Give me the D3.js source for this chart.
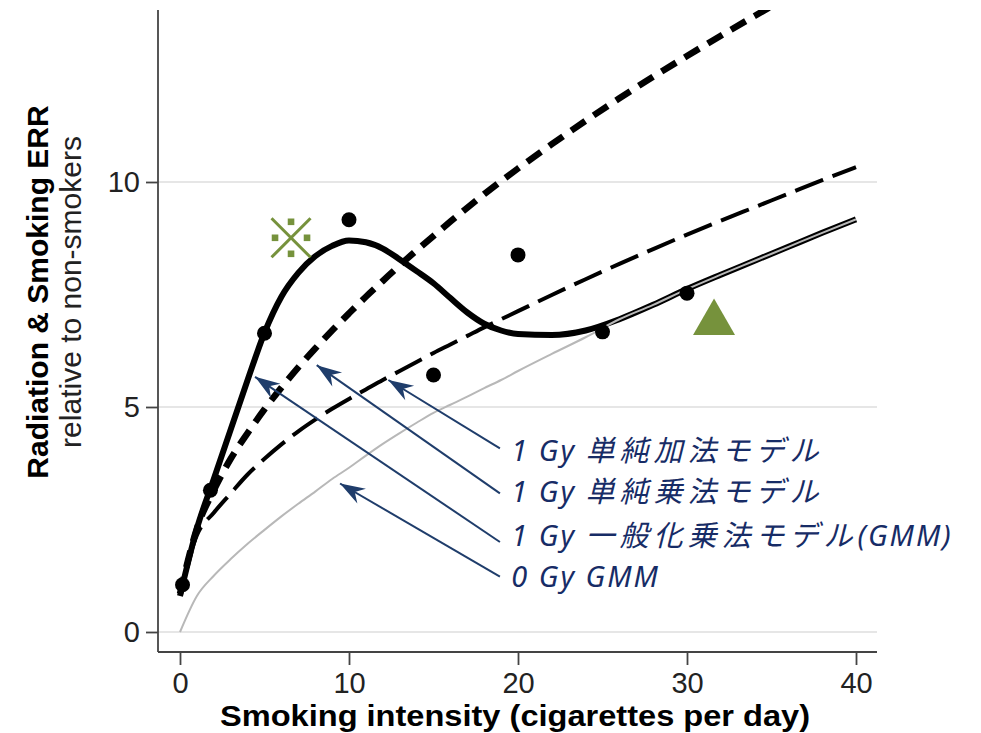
<!DOCTYPE html>
<html>
<head>
<meta charset="utf-8">
<script src="https://cdn.jsdelivr.net/npm/d3@7"></script>
<style>
  body { margin: 0; background: #fff; }
  svg { display: block; }
  .axis text { font-family: "Liberation Sans", Arial, sans-serif; font-size: 29px; fill: #222; }
  .axis line { stroke: #444; stroke-width: 1.8; }
</style>
</head>
<body>
<svg id="chart" width="981" height="733"></svg>
<script>
// Values
var intensity = [0, 1, 2, 3, 4, 5, 6, 7, 8, 9, 10, 11, 12, 13, 14, 15, 16, 17, 18, 19, 20, 22, 24, 26, 28, 30, 32, 34, 36, 38, 40];
var gmm1Gy = [0.8, 2.3, 3.4, 4.5, 5.6, 6.65, 7.45, 7.98, 8.35, 8.58, 8.7, 8.66, 8.52, 8.28, 8.02, 7.75, 7.42, 7.1, 6.85, 6.7, 6.62, 6.6, 6.7, 6.95, 7.27, 7.62, 7.94, 8.25, 8.56, 8.87, 9.17];
var multiplicative1Gy = [0.85, 2.3, 3.15, 3.85, 4.42, 4.95, 5.43, 5.88, 6.3, 6.7, 7.08, 7.45, 7.8, 8.15, 8.48, 8.8, 9.12, 9.43, 9.73, 10.02, 10.3, 10.84, 11.36, 11.86, 12.34, 12.8, 13.25, 13.69, 14.12, 14.54, 14.95];
var additive1Gy = [0.85, 2.15, 2.65, 3.08, 3.5, 3.85, 4.17, 4.46, 4.72, 4.96, 5.18, 5.39, 5.6, 5.8, 6.0, 6.2, 6.39, 6.58, 6.77, 6.95, 7.13, 7.49, 7.84, 8.18, 8.51, 8.83, 9.14, 9.44, 9.74, 10.04, 10.33];
var gmm0Gy = [0, 0.8, 1.25, 1.62, 1.96, 2.27, 2.57, 2.85, 3.12, 3.4, 3.65, 3.92, 4.18, 4.42, 4.65, 4.87, 5.05, 5.23, 5.42, 5.6, 5.8, 6.18, 6.55, 6.95, 7.27, 7.62, 7.94, 8.25, 8.56, 8.87, 9.17];

var obsIntensity = [0.15, 1.8, 5, 10, 15, 20, 25, 30];
var obsErr = [1.05, 3.15, 6.64, 9.16, 5.71, 8.38, 6.67, 7.53];

var xTicks = [0, 10, 20, 30, 40];
var yTicks = [0, 5, 10];

var labels = ["1 Gy 単純加法モデル", "1 Gy 単純乗法モデル", "1 Gy 一般化乗法モデル(GMM)", "0 Gy GMM"];
// arrow tail / head in data units, label anchor in data units
var arrowTails = [[18.93, 4.08], [18.93, 3.08], [18.93, 2.0], [18.93, 1.23]];
var arrowHeads = [[12.33, 5.6], [8.09, 5.93], [4.44, 5.67], [9.47, 3.3]];
var labelPos = [[19.6, 3.8], [19.6, 2.89], [19.6, 1.91], [19.6, 1.0]];

var markRef = [6.57, 8.76];   // reference mark
var markTri = [31.6, 6.87];   // triangle

var svg = d3.select("#chart");

var x = d3.scaleLinear().domain([0, 40]).range([180, 856]);
var y = d3.scaleLinear().domain([0, 10]).range([632, 182]);

var plotLeft = 158, plotRight = 877, plotTop = 10, plotBottom = 652;

// gridlines
svg.append("g").selectAll("line")
    .data(yTicks)
  .enter().append("line")
    .attr("x1", plotLeft).attr("x2", plotRight)
    .attr("y1", function(d) { return y(d); })
    .attr("y2", function(d) { return y(d); })
    .style("stroke", "#e6e6e6")
    .style("stroke-width", 2);

// axes
var yAxis = d3.axisLeft(y).tickValues(yTicks).tickSize(12).tickPadding(6);
var gy = svg.append("g")
    .attr("class", "axis")
    .attr("transform", "translate(" + plotLeft + ",0)")
    .call(yAxis);
gy.select(".domain").remove();
gy.append("line")
    .attr("x1", 0).attr("x2", 0)
    .attr("y1", plotTop).attr("y2", plotBottom);

var xAxis = d3.axisBottom(x).tickValues(xTicks).tickSize(13).tickPadding(7);
var gx = svg.append("g")
    .attr("class", "axis")
    .attr("transform", "translate(0," + plotBottom + ")")
    .call(xAxis);
gx.select(".domain").remove();
gx.append("line")
    .attr("x1", plotLeft).attr("x2", plotRight)
    .attr("y1", 0).attr("y2", 0);

// axis titles
svg.append("text")
    .attr("x", 515).attr("y", 726)
    .attr("text-anchor", "middle")
    .attr("textLength", 590)
    .attr("lengthAdjust", "spacingAndGlyphs")
    .style("font-family", "Liberation Sans, Arial, sans-serif")
    .style("font-weight", "bold")
    .style("font-size", "30px")
    .text("Smoking intensity (cigarettes per day)");

svg.append("text")
    .attr("transform", "translate(48,292) rotate(-90)")
    .attr("text-anchor", "middle")
    .style("font-family", "Liberation Sans, Arial, sans-serif")
    .style("font-weight", "bold")
    .style("font-size", "30px")
    .text("Radiation & Smoking ERR");

svg.append("text")
    .attr("transform", "translate(81,292) rotate(-90)")
    .attr("text-anchor", "middle")
    .style("font-family", "Liberation Sans, Arial, sans-serif")
    .style("font-size", "30px")
    .style("fill", "#222")
    .text("relative to non-smokers");

// curves
svg.append("clipPath").attr("id", "clip")
  .append("rect")
    .attr("x", plotLeft).attr("y", plotTop)
    .attr("width", plotRight - plotLeft).attr("height", plotBottom - plotTop);

var line = d3.line()
    .x(function(d) { return x(d[0]); })
    .y(function(d) { return y(d[1]); })
    .curve(d3.curveMonotoneX);

function pairs(vals) { return intensity.map(function(t, i) { return [t, vals[i]]; }); }

var curves = [
  {vals: additive1Gy, color: "#000", width: 4, dash: "30,10"},
  {vals: multiplicative1Gy, color: "#000", width: 6.5, dash: "17,10"},
  {vals: gmm1Gy, color: "#000", width: 6, dash: null},
  {vals: gmm0Gy, color: "#b8b8b8", width: 2, dash: null}
];

var cg = svg.append("g").attr("clip-path", "url(#clip)");
cg.selectAll("path")
    .data(curves)
  .enter().append("path")
    .attr("d", function(d) { return line(pairs(d.vals)); })
    .style("fill", "none")
    .style("stroke", function(d) { return d.color; })
    .style("stroke-width", function(d) { return d.width; })
    .style("stroke-dasharray", function(d) { return d.dash; })
    .style("stroke-linejoin", "round");

// observed points
svg.append("g").selectAll("circle")
    .data(obsIntensity)
  .enter().append("circle")
    .attr("cx", function(d) { return x(d); })
    .attr("cy", function(d, i) { return y(obsErr[i]); })
    .attr("r", 7.5)
    .style("fill", "#000");

// green marks
var green = "#76923c";
var ref = svg.append("g")
    .attr("transform", "translate(" + x(markRef[0]) + "," + y(markRef[1]) + ")");
ref.selectAll("line")
    .data([[-1, -1], [1, -1]])
  .enter().append("line")
    .attr("x1", function(d) { return d[0] * 19.5; })
    .attr("y1", function(d) { return d[1] * 19.5; })
    .attr("x2", function(d) { return -d[0] * 19.5; })
    .attr("y2", function(d) { return -d[1] * 19.5; })
    .style("stroke", green)
    .style("stroke-width", 3);
ref.selectAll("rect")
    .data([[0, -16], [0, 16], [-16, 0], [16, 0]])
  .enter().append("rect")
    .attr("x", function(d) { return d[0] - 3.3; })
    .attr("y", function(d) { return d[1] - 3.3; })
    .attr("width", 6.6).attr("height", 6.6)
    .style("fill", green);

svg.append("path")
    .attr("transform", "translate(" + x(markTri[0]) + "," + y(markTri[1]) + ")")
    .attr("d", d3.symbol().type(d3.symbolTriangle).size(764)())
    .style("fill", green);

// arrows
var navy = "#1f3d6b";
svg.append("defs").append("marker")
    .attr("id", "head")
    .attr("markerUnits", "userSpaceOnUse")
    .attr("viewBox", "-26 -10 28 20")
    .attr("markerWidth", 28).attr("markerHeight", 20)
    .attr("refX", 0).attr("refY", 0)
    .attr("orient", "auto")
  .append("path")
    .attr("d", "M0,0 L-25,-8.5 L-17,0 L-25,8.5 Z")
    .style("fill", navy);

svg.append("g").selectAll("line")
    .data(arrowTails)
  .enter().append("line")
    .attr("x1", function(d) { return x(d[0]); })
    .attr("y1", function(d) { return y(d[1]); })
    .attr("x2", function(d, i) { return x(arrowHeads[i][0]); })
    .attr("y2", function(d, i) { return y(arrowHeads[i][1]); })
    .style("stroke", navy)
    .style("stroke-width", 2)
    .attr("marker-end", "url(#head)");

// labels, CJK runs get extra tracking
var lt = svg.append("g").selectAll("text")
    .data(labels)
  .enter().append("text")
    .attr("x", function(d, i) { return x(labelPos[i][0]); })
    .attr("y", function(d, i) { return y(labelPos[i][1]); })
    .style("font-family", "'Noto Sans', 'Noto Sans CJK JP', sans-serif")
    .style("font-style", "italic")
    .style("font-size", "29px")
    .style("fill", "#172c66");

lt.each(function(d) {
  var runs = d.match(/[\u3000-\u30ff\u4e00-\u9fff]+|[^\u3000-\u30ff\u4e00-\u9fff]+/g);
  var t = d3.select(this);
  runs.forEach(function(r) {
    var cjk = /[\u3000-\u30ff\u4e00-\u9fff]/.test(r);
    t.append("tspan")
      .style("letter-spacing", cjk ? "5px" : "2px")
      .text(r);
  });
});
</script>
</body>
</html>
